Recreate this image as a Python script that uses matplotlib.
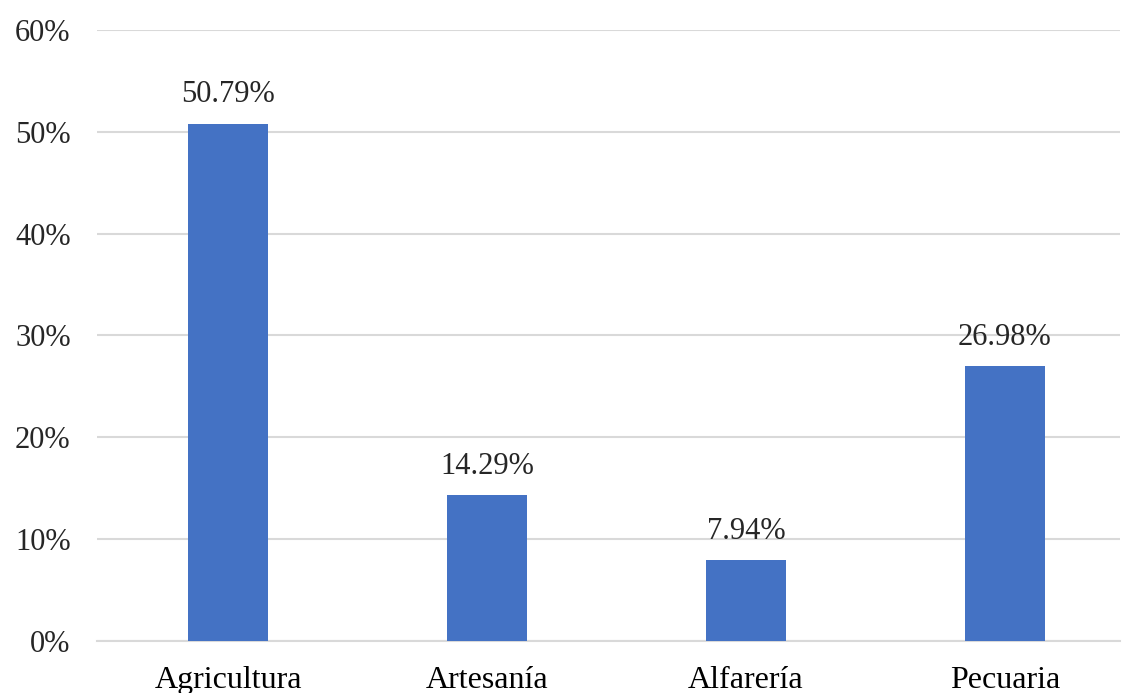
import numpy as np
import matplotlib.pyplot as plt

categorias = ['Agricultura', 'Artesanía', 'Alfarería', 'Pecuaria']
valores = [50.79, 14.29, 7.94, 26.98]
yticks = [0, 10, 20, 30, 40, 50, 60]

plt.rcParams['font.family'] = ['Liberation Serif', 'DejaVu Serif']

fig = plt.figure(figsize=(11.22, 6.93), dpi=100)
ax = fig.add_axes([0.0865, 0.075, 0.9115, 0.882])

x = np.arange(len(categorias))
bars = ax.bar(x, valores, width=0.31, color='#4472c4', zorder=3)

for b, v in zip(bars, valores):
    ax.text(b.get_x() + b.get_width() / 2, v + 1.4, f'{v:.2f}%',
            ha='center', va='bottom', fontsize=22, color='#262626')

ax.set_ylim(0, 60)
ax.set_xlim(-0.506, 3.444)
ax.set_yticks(yticks)
ax.set_yticklabels([f'{t}%' for t in yticks], fontsize=22, color='#262626')
ax.set_xticks(x)
ax.set_xticklabels(categorias, fontsize=23, color='black')
ax.yaxis.grid(True, color='#d9d9d9', linewidth=1.5, zorder=0)
for s in ['top', 'right', 'left']:
    ax.spines[s].set_visible(False)
ax.spines['bottom'].set_color('#d9d9d9')
ax.spines['bottom'].set_linewidth(1.5)
ax.tick_params(axis='both', length=0)
ax.tick_params(axis='y', pad=19)
ax.tick_params(axis='x', pad=18)

fig.savefig('out.png', dpi=100)
